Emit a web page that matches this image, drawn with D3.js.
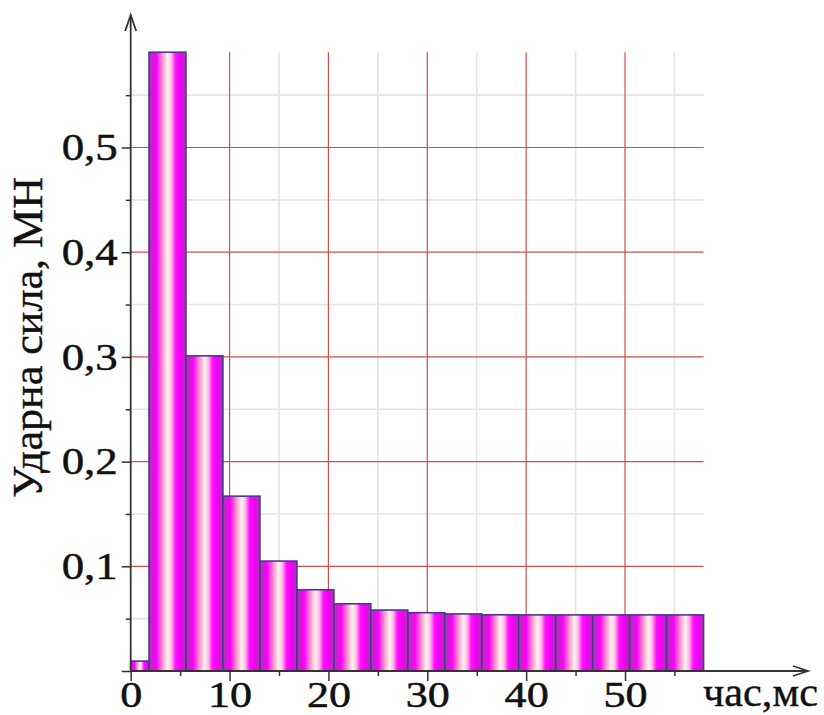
<!DOCTYPE html>
<html>
<head>
<meta charset="utf-8">
<script src="https://cdn.jsdelivr.net/npm/d3@7"></script>
<style>
  html, body { margin: 0; padding: 0; background: #fff; }
  svg { display: block; }
  text { font-family: "Liberation Serif", "Times New Roman", serif; fill: #111; }
</style>
</head>
<body>
<svg id="chart" width="824" height="715"></svg>
<script>
// ---- data ----
const binStart = [0, 1.85, 5.59, 9.33, 13.07, 16.81, 20.55, 24.29, 28.03, 31.77, 35.51, 39.25, 42.99, 46.73, 50.47, 54.21];
const binEnd   = [1.85, 5.59, 9.33, 13.07, 16.81, 20.55, 24.29, 28.03, 31.77, 35.51, 39.25, 42.99, 46.73, 50.47, 54.21, 57.95];
const force    = [0.0095, 0.591, 0.301, 0.167, 0.105, 0.0776, 0.0642, 0.0582, 0.0557, 0.0545, 0.0537, 0.0536, 0.0536, 0.0536, 0.0536, 0.0536];
const xMajorTicks = [0, 10, 20, 30, 40, 50];
const xMinorTicks = [5, 15, 25, 35, 45, 55];
const yMajorTicks = [0, 0.1, 0.2, 0.3, 0.4, 0.5];
const yMinorTicks = [0.05, 0.15, 0.25, 0.35, 0.45, 0.55];
const xTitle = "час,мс";
const yTitle = "Ударна сила, МН";

const FONT = "Liberation Serif";
const svg = d3.select("#chart");
const xMax = d3.max(binEnd);
const yMax = d3.max(force);

const x = d3.scaleLinear().domain([0, xMax]).range([130.7, 130.7 + xMax * 9.886]);
const y = d3.scaleLinear().domain([0, yMax]).range([671, 671 - yMax * 1047]);

// gradient
const defs = svg.append("defs");
const grad = defs.append("linearGradient").attr("id", "barGrad")
  .attr("x1", "0%").attr("x2", "100%").attr("y1", "0%").attr("y2", "0%");
[
  [0, "#a83ab0"], [0.1, "#d21ad6"], [0.2, "#ff00ff"], [0.36, "#ff90c8"],
  [0.5, "#fff2f2"], [0.6, "#ffc0e4"], [0.72, "#ff10ff"], [0.86, "#f000f4"], [1, "#a83ab0"]
].forEach(([o, c]) => grad.append("stop").attr("offset", o).attr("stop-color", c));

// grid
const grid = svg.append("g");
grid.selectAll(".vminor").data(xMinorTicks.filter(d => d <= xMax)).join("line")
  .attr("x1", d => x(d)).attr("x2", d => x(d)).attr("y1", y(0)).attr("y2", y(yMax))
  .attr("stroke", "#e4e4e4").attr("stroke-width", 1.6);
grid.selectAll(".hminor").data(yMinorTicks.filter(d => d <= yMax)).join("line")
  .attr("x1", x(0)).attr("x2", x(xMax)).attr("y1", d => y(d)).attr("y2", d => y(d))
  .attr("stroke", "#e4e4e4").attr("stroke-width", 1.6);
grid.selectAll(".vmajor").data(xMajorTicks.filter(d => d > 0)).join("line")
  .attr("x1", d => x(d)).attr("x2", d => x(d)).attr("y1", y(0)).attr("y2", y(yMax))
  .attr("stroke", "#cd4f4f").attr("stroke-width", 1.2);
grid.selectAll(".hmajor").data(yMajorTicks.filter(d => d > 0)).join("line")
  .attr("x1", x(0)).attr("x2", x(xMax)).attr("y1", d => y(d)).attr("y2", d => y(d))
  .attr("stroke", "#cd4f4f").attr("stroke-width", 1.2);

// bars
svg.append("g").selectAll("rect").data(force).join("rect")
  .attr("x", (d, i) => x(binStart[i]))
  .attr("width", (d, i) => x(binEnd[i]) - x(binStart[i]))
  .attr("y", d => y(d))
  .attr("height", d => y(0) - y(d))
  .attr("fill", "url(#barGrad)")
  .attr("stroke", "#4b3890").attr("stroke-width", 1.6);

// axes
const fmtY = v => v === 0 ? "" : d3.format(".1f")(v).replace(".", ",");
const yAxisMajor = d3.axisLeft(y).tickValues(yMajorTicks).tickSize(9).tickPadding(2).tickFormat(fmtY);
const yAxisMinor = d3.axisLeft(y).tickValues(yMinorTicks).tickSize(5).tickFormat("");
const xAxisMajor = d3.axisBottom(x).tickValues(xMajorTicks).tickSize(10).tickPadding(1).tickFormat(d3.format("d"));
const xAxisMinor = d3.axisBottom(x).tickValues(xMinorTicks).tickSize(5).tickFormat("");

function styleAxis(g, fs, sx) {
  g.select(".domain").remove();
  g.selectAll(".tick line").attr("stroke", "#333").attr("stroke-width", 1.5);
  g.selectAll(".tick text").attr("font-family", FONT).attr("font-size", fs).attr("fill", "#111")
    .attr("stroke", "#111").attr("stroke-width", 0.5)
    .attr("transform", `scale(${sx},1)`);
}
svg.append("g").attr("transform", `translate(${x(0)},0)`).call(yAxisMajor).call(g => styleAxis(g, 38, 1.18));
svg.append("g").attr("transform", `translate(${x(0)},0)`).call(yAxisMinor).call(g => styleAxis(g, 38, 1.18));
svg.append("g").attr("transform", `translate(0,${y(0)})`).call(xAxisMajor).call(g => styleAxis(g, 35, 1.26));
svg.append("g").attr("transform", `translate(0,${y(0)})`).call(xAxisMinor).call(g => styleAxis(g, 35, 1.26));

// axis lines with arrows
const ax = svg.append("g").attr("stroke", "#333").attr("stroke-width", 1.8).attr("fill", "none");
ax.append("line").attr("x1", x(0)).attr("x2", x(0)).attr("y1", y(0)).attr("y2", 15);
ax.append("polyline").attr("points", `${x(0) - 5.5},31 ${x(0)},15 ${x(0) + 5.5},31`);
ax.append("line").attr("x1", x(0)).attr("x2", 808).attr("y1", y(0)).attr("y2", y(0));
ax.append("polyline").attr("points", `793,${y(0) - 5} 808,${y(0)} 793,${y(0) + 5}`);

// titles
svg.append("text").attr("x", 703).attr("y", 706)
  .attr("font-family", FONT).attr("font-size", 40)
  .attr("stroke", "#111").attr("stroke-width", 0.4)
  .attr("textLength", 115).attr("lengthAdjust", "spacingAndGlyphs").text(xTitle);
svg.append("text")
  .attr("transform", "translate(42,337.5) rotate(-90)")
  .attr("text-anchor", "middle").attr("font-family", FONT).attr("font-size", 42)
  .attr("stroke", "#111").attr("stroke-width", 0.4)
  .attr("textLength", 321).attr("lengthAdjust", "spacingAndGlyphs").text(yTitle);
</script>
</body>
</html>
